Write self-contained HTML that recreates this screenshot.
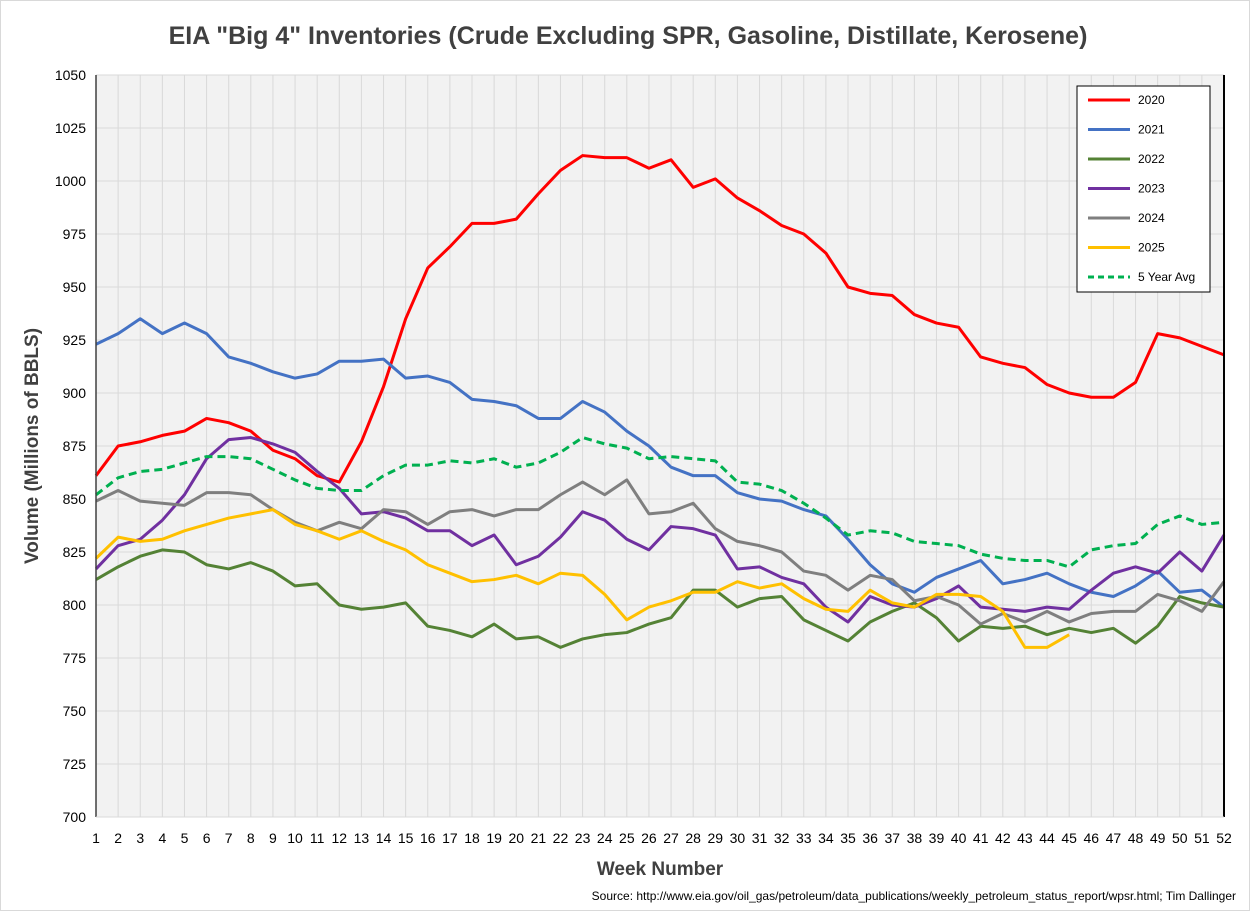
<!DOCTYPE html>
<html><head><meta charset="utf-8"><style>
body{margin:0;background:#fff;font-family:"Liberation Sans",sans-serif;}
svg text{font-family:"Liberation Sans",sans-serif;}
</style></head><body>
<svg id="chart" width="1250" height="911" xmlns="http://www.w3.org/2000/svg">
<rect x="0.5" y="0.5" width="1249" height="910" fill="#fff" stroke="#d9d9d9"/>
<text x="628" y="44" text-anchor="middle" font-size="25" font-weight="bold" fill="#404040">EIA "Big 4" Inventories (Crude Excluding SPR, Gasoline, Distillate, Kerosene)</text>
<rect x="96" y="75" width="1128" height="742" fill="#f2f2f2"/>
<g id="grid"></g>
<g id="series"></g>
<g id="axes"></g>
<text transform="translate(38,446) rotate(-90)" text-anchor="middle" font-size="19" font-weight="bold" fill="#404040">Volume (Millions of BBLS)</text>
<text x="660" y="875" text-anchor="middle" font-size="19" font-weight="bold" fill="#404040">Week Number</text>
<text x="1236" y="900" text-anchor="end" font-size="12" fill="#000">Source: http://www.eia.gov/oil_gas/petroleum/data_publications/weekly_petroleum_status_report/wpsr.html; Tim Dallinger</text>
<g id="legend"></g>
</svg>
<script>
const weeks = Array.from({length:52},(_,i)=>i+1);
const yTicks = [700,725,750,775,800,825,850,875,900,925,950,975,1000,1025,1050];
const s2020 = [861,875,877,880,882,888,886,882,873,869,861,858,877,903,935,959,969,980,980,982,994,1005,1012,1011,1011,1006,1010,997,1001,992,986,979,975,966,950,947,946,937,933,931,917,914,912,904,900,898,898,905,928,926,922,918];
const s2021 = [923,928,935,928,933,928,917,914,910,907,909,915,915,916,907,908,905,897,896,894,888,888,896,891,882,875,865,861,861,853,850,849,845,842,831,819,810,806,813,817,821,810,812,815,810,806,804,809,816,806,807,799];
const s2022 = [812,818,823,826,825,819,817,820,816,809,810,800,798,799,801,790,788,785,791,784,785,780,784,786,787,791,794,807,807,799,803,804,793,788,783,792,797,801,794,783,790,789,790,786,789,787,789,782,790,804,801,799];
const s2023 = [817,828,831,840,852,869,878,879,876,872,863,855,843,844,841,835,835,828,833,819,823,832,844,840,831,826,837,836,833,817,818,813,810,799,792,804,800,799,803,809,799,798,797,799,798,807,815,818,815,825,816,833];
const s2024 = [849,854,849,848,847,853,853,852,845,839,835,839,836,845,844,838,844,845,842,845,845,852,858,852,859,843,844,848,836,830,828,825,816,814,807,814,812,802,804,800,791,796,792,797,792,796,797,797,805,802,797,811];
const s2025 = [822,832,830,831,835,838,841,843,845,838,835,831,835,830,826,819,815,811,812,814,810,815,814,805,793,799,802,806,806,811,808,810,803,798,797,807,801,799,805,805,804,797,780,780,786];
const sAvg = [852,860,863,864,867,870,870,869,864,859,855,854,854,861,866,866,868,867,869,865,867,872,879,876,874,869,870,869,868,858,857,854,848,841,833,835,834,830,829,828,824,822,821,821,818,826,828,829,838,842,838,839];
const seriesNames = ["2020","2021","2022","2023","2024","2025","5 Year Avg"];
const seriesData = [s2020,s2021,s2022,s2023,s2024,s2025,sAvg];
const colors = ["#ff0000","#4472c4","#548235","#7030a0","#7f7f7f","#ffc000","#00b050"];

const NS="http://www.w3.org/2000/svg";
const L=96,R=1224,T=75,B=817;
const x = w => L + (w-1)*(R-L)/51;
const y = v => B - (v-700)*(B-T)/350;
function mk(tag,attrs,parent){const e=document.createElementNS(NS,tag);for(const k in attrs)e.setAttribute(k,attrs[k]);parent.appendChild(e);return e;}
const grid=document.getElementById('grid'), axes=document.getElementById('axes'), ser=document.getElementById('series'), leg=document.getElementById('legend');
yTicks.forEach(v=>{
  const l=mk('line',{x1:L,x2:R,y1:y(v),y2:y(v),stroke:'#d9d9d9','stroke-width':1},grid);
  
  
  const t=mk('text',{x:L-10,y:y(v)+5,'text-anchor':'end','font-size':14,fill:'#000'},axes);
  t.textContent=v;
  
  
});
weeks.forEach(w=>{
  const l=mk('line',{x1:x(w),x2:x(w),y1:T,y2:B,stroke:'#d9d9d9','stroke-width':1},grid);
  
  
  const t=mk('text',{x:x(w),y:B+26,'text-anchor':'middle','font-size':14,fill:'#000'},axes);
  t.textContent=w;
  
  
});
mk('line',{x1:L,x2:L,y1:T,y2:B,stroke:'#404040','stroke-width':1.5},axes);
mk('line',{x1:R,x2:R,y1:T,y2:B,stroke:'#000','stroke-width':2},axes);
mk('line',{x1:L,x2:R,y1:B,y2:B,stroke:'#d9d9d9','stroke-width':1},axes);
seriesData.forEach((d,i)=>{
  const p=mk('polyline',{points:d.map((v,j)=>x(j+1)+','+y(v)).join(' '),fill:'none',stroke:colors[i],'stroke-width':3,'stroke-linejoin':'round'},ser);
  if(i===6)p.setAttribute('stroke-dasharray','8,5');
  
  
});
mk('rect',{x:1077,y:86,width:133,height:206,fill:'#fff',stroke:'#000','stroke-width':1},leg);
seriesNames.forEach((n,i)=>{
  const yy=100+i*29.5;
  const l=mk('line',{x1:1088,x2:1130,y1:yy,y2:yy,stroke:colors[i],'stroke-width':3},leg);
  if(i===6)l.setAttribute('stroke-dasharray','6,4');
  
  
  const t=mk('text',{x:1138,y:yy+4,'font-size':12,fill:'#000'},leg);
  t.textContent=n;
  
  
});
</script>
</body></html>
